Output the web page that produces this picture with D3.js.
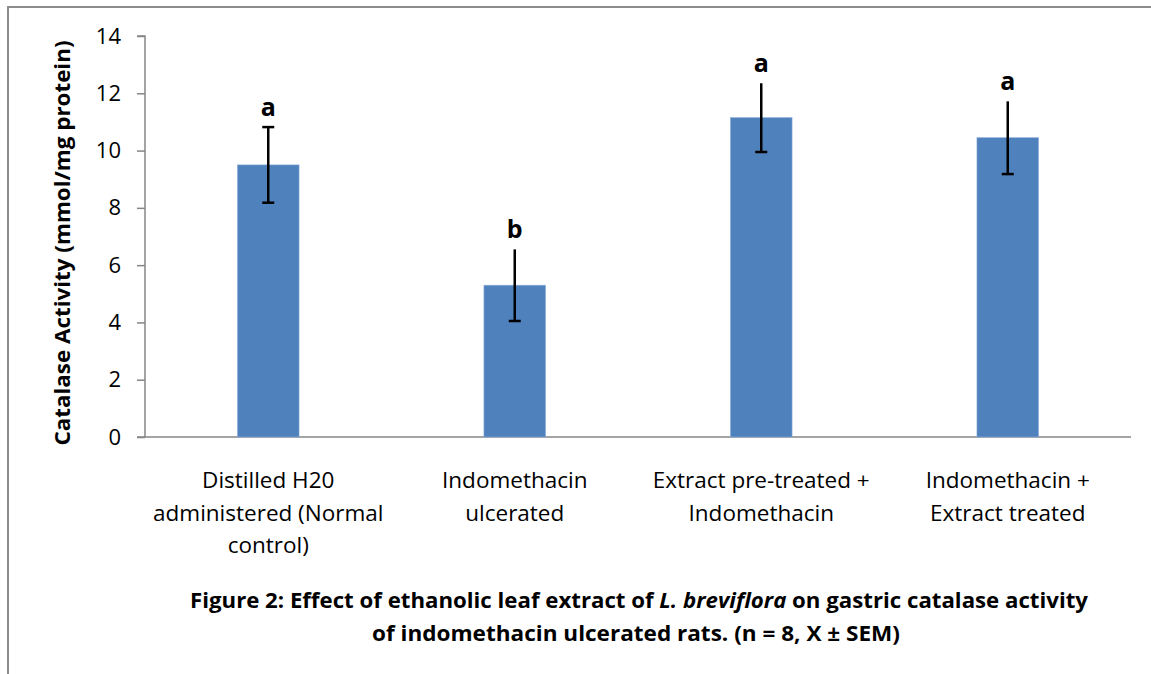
<!DOCTYPE html>
<html>
<head>
<meta charset="utf-8">
<script src="https://cdn.jsdelivr.net/npm/d3@7"></script>
<style>
  body { margin: 0; background: #fff; }
  text { font-family: "Open Sans", sans-serif; fill: #000; }
</style>
</head>
<body>
<svg id="chart" width="1151" height="674"></svg>
<script>
// Data
const groups = [
    ["Distilled H20", "administered (Normal", "control)"],
    ["Indomethacin", "ulcerated"],
    ["Extract pre-treated +", "Indomethacin"],
    ["Indomethacin +", "Extract treated"]
];
const means = [9.5, 5.3, 11.15, 10.45];
const sem = [1.32, 1.25, 1.2, 1.27];
const letters = ["a", "b", "a", "a"];
const topCap = [true, false, false, false];
const yTicks = [0, 2, 4, 6, 8, 10, 12, 14];

const svg = d3.select("#chart");
const plotLeft = 145, plotRight = 1131, plotTop = 36, plotBottom = 437;
const ids = d3.range(groups.length);

const x = d3.scaleBand()
    .domain(ids)
    .range([plotLeft, plotRight])
    .paddingInner(0.75)
    .paddingOuter(0.375);

const y = d3.scaleLinear()
    .domain([0, 14])
    .range([plotBottom, plotTop]);

// outer frame (only top and left show in the picture)
svg.append("path")
    .attr("d", "M8,674 L8,7 L1151,7")
    .attr("fill", "none")
    .attr("stroke", "#8c8c8c")
    .attr("stroke-width", 2);

// y axis
const yAxis = svg.append("g")
    .attr("transform", `translate(${plotLeft},0)`)
    .call(d3.axisLeft(y).tickValues(yTicks).tickSize(8).tickPadding(16));
yAxis.selectAll("path, line").attr("stroke", "#868686").attr("stroke-width", 1.5);
yAxis.select(".domain").attr("d", `M-8,${plotTop}H0V${plotBottom}`);
yAxis.selectAll("text")
    .attr("font-size", 22)
    .attr("font-family", "Open Sans, sans-serif");

// x axis line
svg.append("line")
    .attr("x1", plotLeft - 8).attr("x2", plotRight)
    .attr("y1", plotBottom).attr("y2", plotBottom)
    .attr("stroke", "#868686")
    .attr("stroke-width", 1.5);

// bars
svg.append("g").selectAll("rect")
    .data(ids)
    .enter().append("rect")
    .attr("x", i => x(i))
    .attr("width", x.bandwidth())
    .attr("y", i => y(means[i]))
    .attr("height", i => y(0) - y(means[i]))
    .attr("fill", "#4f81bd")
    .attr("stroke", "#8db0dc")
    .attr("stroke-width", 0.6);

// error bars
const err = svg.append("g").attr("stroke", "#000").attr("stroke-width", 2.5);
ids.forEach(i => {
    const cx = x(i) + x.bandwidth() / 2;
    const hi = y(means[i] + sem[i]), lo = y(means[i] - sem[i]);
    err.append("line").attr("x1", cx).attr("x2", cx).attr("y1", hi).attr("y2", lo);
    err.append("line").attr("x1", cx - 6).attr("x2", cx + 6).attr("y1", lo).attr("y2", lo);
    if (topCap[i]) {
        err.append("line").attr("x1", cx - 6).attr("x2", cx + 6).attr("y1", hi).attr("y2", hi);
    }
});

// significance letters
svg.append("g").selectAll("text")
    .data(ids)
    .enter().append("text")
    .attr("x", i => x(i) + x.bandwidth() / 2)
    .attr("y", i => y(means[i] + sem[i]) - 11)
    .attr("text-anchor", "middle")
    .attr("font-family", "Liberation Sans, Arial, sans-serif")
    .attr("font-weight", "bold")
    .attr("font-size", 25)
    .text(i => letters[i]);

// category labels
const cat = svg.append("g").selectAll("text")
    .data(ids)
    .enter().append("text")
    .attr("text-anchor", "middle")
    .attr("font-size", 22.5)
    .attr("transform", i => `translate(${x(i) + x.bandwidth() / 2},488)`);
cat.selectAll("tspan")
    .data(i => groups[i])
    .enter().append("tspan")
    .attr("x", 0)
    .attr("y", (d, k) => k * 32.5)
    .text(d => d);

// y axis title
svg.append("text")
    .attr("transform", "translate(70,243) rotate(-90)")
    .attr("text-anchor", "middle")
    .attr("font-weight", "bold")
    .attr("font-size", 22)
    .attr("textLength", 405)
    .attr("lengthAdjust", "spacingAndGlyphs")
    .text("Catalase Activity (mmol/mg protein)");

// caption
const cap1 = svg.append("text")
    .attr("x", 639).attr("y", 608)
    .attr("text-anchor", "middle")
    .attr("font-weight", "bold")
    .attr("font-size", 22)
    .attr("textLength", 898)
    .attr("lengthAdjust", "spacingAndGlyphs");
cap1.append("tspan").text("Figure 2: Effect of ethanolic leaf extract of ");
cap1.append("tspan").attr("font-style", "italic").text("L. breviflora");
cap1.append("tspan").text(" on gastric catalase activity");

svg.append("text")
    .attr("x", 636).attr("y", 641)
    .attr("text-anchor", "middle")
    .attr("font-weight", "bold")
    .attr("font-size", 22)
    .attr("textLength", 528)
    .attr("lengthAdjust", "spacingAndGlyphs")
    .text("of indomethacin ulcerated rats. (n = 8, X ± SEM)");
</script>
</body>
</html>
